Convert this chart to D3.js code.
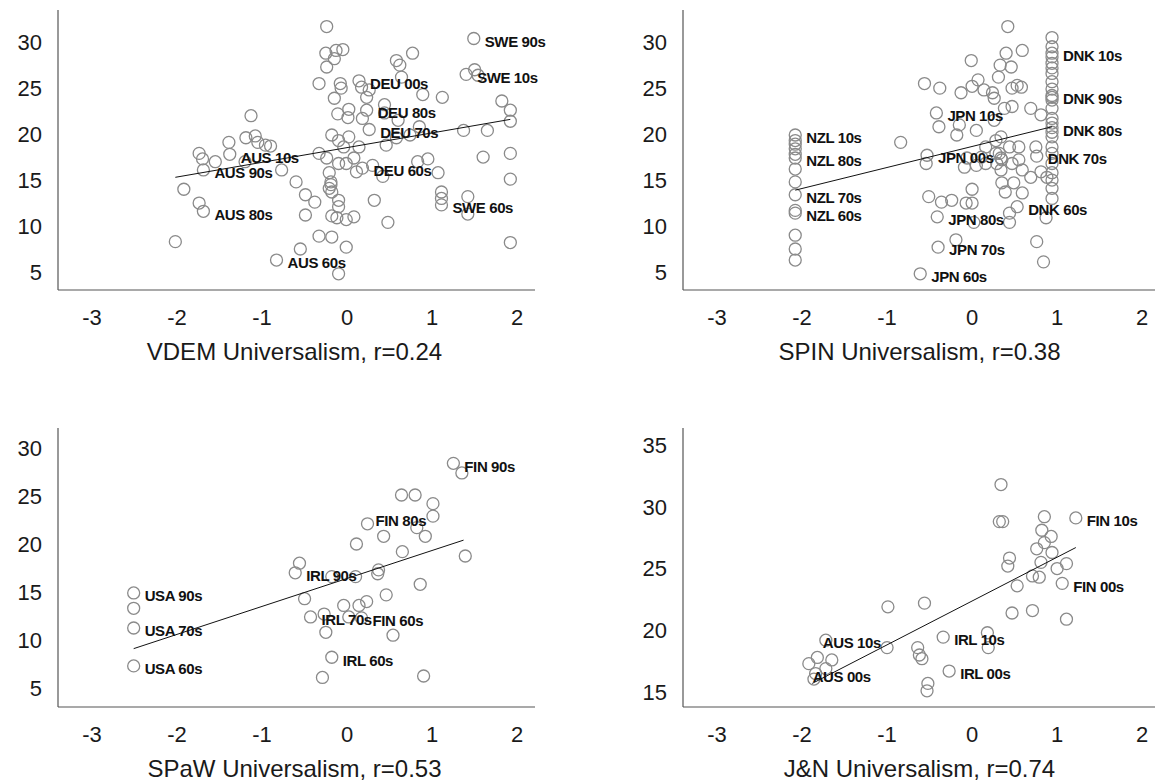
<!DOCTYPE html>
<html>
<head>
<meta charset="utf-8">
<script src="https://cdn.jsdelivr.net/npm/d3@7"></script>
<style>
  body { margin: 0; background: #fff; }
  svg text { font-family: Helvetica, Arial, 'Liberation Sans', sans-serif; }
  .tick-label { font-size: 22px; fill: #1a1a1a; }
  .title { font-size: 24px; fill: #1a1a1a; }
  .pt { fill: none; stroke: #8a8a8a; stroke-width: 1.3; }
  .pt-label { font-size: 15px; font-weight: bold; fill: #111; letter-spacing: -0.4px; }
  .fit { stroke: #111; stroke-width: 1; }
  .axis-line { stroke: #555; stroke-width: 1.2; }
</style>
</head>
<body>
<div id="chart"></div>
<script>
const xTicks = [-3, -2, -1, 0, 1, 2];
const yTicks = [5, 10, 15, 20, 25, 30];
const yTicksJN = [15, 20, 25, 30, 35];

// VDEM universalism vs outcome
const vdemPoints = [
  [-1.13, 22.0], [-1.74, 17.9], [-1.70, 17.3], [-1.69, 16.1], [-1.39, 19.1], [-1.38, 17.8],
  [-1.55, 17.0], [-1.19, 19.6], [-1.08, 19.8], [-1.05, 19.1], [-0.96, 18.8], [-0.90, 18.7],
  [-1.20, 17.0], [-0.77, 16.1], [-1.92, 14.0], [-1.74, 12.5], [-1.69, 11.6], [-2.02, 8.3],
  [-0.83, 6.3], [-0.24, 31.7], [-0.25, 28.8], [-0.13, 29.1], [-0.05, 29.2], [-0.15, 28.2],
  [-0.24, 27.3], [-0.33, 25.5], [-0.08, 25.5], [-0.07, 25.0], [-0.15, 23.9], [0.14, 25.8],
  [0.17, 25.1], [0.26, 24.8], [0.23, 24.0], [0.58, 28.0], [0.62, 27.5], [0.77, 28.8],
  [0.64, 26.2], [0.89, 24.3], [1.12, 24.0], [1.49, 30.4], [1.40, 26.5], [1.50, 27.0],
  [1.54, 26.4], [1.82, 23.6], [1.92, 22.6], [1.92, 21.4], [1.37, 20.4], [1.65, 20.4],
  [1.60, 17.5], [1.92, 17.9], [1.92, 15.1], [1.92, 8.2], [-0.11, 22.2], [0.02, 22.7],
  [0.01, 21.8], [0.18, 21.7], [0.23, 22.6], [0.26, 20.5], [0.44, 23.2], [0.44, 22.3],
  [0.60, 21.5], [0.85, 20.8], [-0.18, 19.9], [-0.10, 19.3], [0.02, 19.7], [-0.04, 18.6],
  [0.14, 18.6], [-0.33, 17.9], [-0.24, 17.4], [-0.10, 16.8], [-0.01, 16.8], [0.08, 17.4],
  [0.11, 15.9], [0.18, 16.3], [0.30, 16.6], [0.46, 18.8], [0.58, 19.6], [0.74, 19.9],
  [0.42, 15.4], [0.83, 17.0], [0.95, 17.3], [1.07, 15.8], [-0.60, 14.8], [-0.21, 15.8],
  [-0.19, 14.8], [-0.19, 14.5], [-0.21, 14.1], [-0.18, 13.7], [-0.10, 12.8], [-0.10, 12.1],
  [-0.49, 13.4], [-0.38, 12.6], [-0.49, 11.2], [-0.18, 11.1], [-0.12, 10.9], [-0.01, 10.7],
  [0.08, 11.0], [0.32, 12.8], [0.48, 10.4], [1.11, 13.7], [1.11, 13.0], [1.11, 12.3],
  [1.42, 13.2], [1.42, 11.3], [-0.33, 8.9], [-0.18, 8.8], [-0.01, 7.7], [-0.55, 7.5],
  [-0.10, 4.8]
];
const vdemLabels = [
  ['AUS 10s', -1.38, 17.8], ['AUS 90s', -1.69, 16.1], ['AUS 80s', -1.69, 11.6],
  ['AUS 60s', -0.83, 6.3], ['DEU 00s', 0.14, 25.8], ['DEU 80s', 0.23, 22.6],
  ['DEU 70s', 0.26, 20.5], ['DEU 60s', 0.18, 16.3], ['SWE 90s', 1.49, 30.4],
  ['SWE 10s', 1.40, 26.5], ['SWE 60s', 1.11, 12.3]
];
const vdemFit = [[-2.02, 15.3], [1.92, 21.6]];

// SPIN universalism
const spinPoints = [
  [-2.08, 19.9], [-2.08, 19.3], [-2.08, 18.9], [-2.08, 18.4], [-2.08, 17.8], [-2.08, 17.4],
  [-2.08, 16.2], [-2.08, 14.8], [-2.08, 13.4], [-2.08, 11.7], [-2.08, 11.4], [-2.08, 9.0],
  [-2.08, 7.5], [-2.08, 6.3],
  [0.94, 30.5], [0.94, 29.5], [0.94, 28.8], [0.94, 28.4], [0.94, 27.7], [0.94, 27.2],
  [0.94, 26.6], [0.94, 25.7], [0.94, 24.9], [0.94, 24.2], [0.94, 24.0], [0.94, 23.7],
  [0.94, 22.8], [0.94, 21.7], [0.94, 21.2], [0.94, 20.7], [0.94, 20.2], [0.94, 19.7],
  [0.94, 18.6], [0.94, 17.9], [0.94, 16.8], [0.94, 15.8], [0.94, 15.0], [0.94, 14.1],
  [0.94, 13.0],
  [0.42, 31.7], [0.59, 29.1], [0.40, 28.8], [-0.01, 28.0], [0.33, 27.5], [0.46, 27.3],
  [0.31, 26.2], [0.07, 25.9], [-0.56, 25.5], [-0.38, 25.0], [-0.13, 24.5], [0.00, 25.2],
  [0.14, 24.8], [0.24, 24.5], [0.26, 23.9], [0.47, 25.0], [0.53, 25.3], [0.58, 25.1],
  [0.38, 22.8], [0.47, 23.0], [0.69, 22.8], [0.81, 22.1], [-0.42, 22.3], [-0.39, 20.8],
  [-0.15, 21.0], [0.05, 20.4], [-0.18, 19.9], [0.26, 21.5], [-0.84, 19.1], [-0.53, 17.7],
  [-0.54, 16.8], [-0.09, 16.4], [0.05, 16.6], [0.16, 18.6], [0.28, 19.3], [0.34, 19.7],
  [0.44, 18.6], [0.55, 18.6], [0.32, 17.9], [0.35, 17.2], [0.47, 16.8], [0.55, 17.2],
  [0.59, 16.1], [0.34, 16.1], [0.75, 18.6], [0.69, 15.3], [0.81, 15.9], [0.88, 15.3],
  [0.35, 14.7], [0.49, 14.7], [0.39, 13.7], [0.59, 13.6], [0.00, 14.0], [-0.51, 13.2],
  [-0.36, 12.6], [-0.24, 12.8], [-0.07, 12.5], [0.00, 12.5], [0.44, 11.4], [-0.41, 11.0],
  [0.02, 10.4], [0.44, 10.4], [0.87, 10.9], [-0.19, 8.5], [-0.40, 7.7], [0.76, 8.3],
  [0.84, 6.1], [-0.61, 4.8], [0.76, 17.6], [0.53, 12.1], [0.28, 17.9], [0.34, 17.4],
  [0.29, 16.8], [0.11, 17.5], [0.16, 16.8], [-0.06, 17.4]
];
const spinLabels = [
  ['NZL 10s', -2.08, 19.9], ['NZL 80s', -2.08, 17.4], ['NZL 70s', -2.08, 13.4],
  ['NZL 60s', -2.08, 11.4], ['JPN 10s', -0.42, 22.3], ['JPN 00s', -0.53, 17.7],
  ['JPN 80s', -0.41, 11.0], ['JPN 70s', -0.40, 7.7], ['JPN 60s', -0.61, 4.8],
  ['DNK 10s', 0.94, 28.8], ['DNK 90s', 0.94, 24.2], ['DNK 80s', 0.94, 20.7],
  ['DNK 70s', 0.76, 17.6], ['DNK 60s', 0.53, 12.1]
];
const spinFit = [[-2.08, 13.9], [0.94, 20.8]];

// SPaW universalism
const spawPoints = [
  [-2.51, 14.9], [-2.51, 13.3], [-2.51, 11.25], [-2.51, 7.3],
  [1.25, 28.4], [1.35, 27.4], [0.64, 25.1], [0.80, 25.1], [1.01, 24.2], [1.01, 22.9],
  [0.82, 21.7], [0.92, 20.8], [0.24, 22.1], [0.43, 20.8], [0.11, 20.0], [0.65, 19.2],
  [1.39, 18.75], [-0.56, 18.0], [-0.61, 17.0], [-0.18, 16.6], [0.10, 16.6], [0.37, 17.3],
  [0.36, 16.9], [0.86, 15.8], [-0.50, 14.3], [0.46, 14.7], [-0.04, 13.6], [0.14, 13.6],
  [0.23, 14.0], [-0.43, 12.4], [-0.27, 12.7], [0.02, 12.4], [0.17, 12.3], [-0.25, 10.8],
  [0.54, 10.5], [-0.18, 8.2], [-0.29, 6.1], [0.90, 6.25]
];
const spawLabels = [
  ['USA 90s', -2.51, 14.9], ['USA 70s', -2.51, 11.25], ['USA 60s', -2.51, 7.3],
  ['FIN 90s', 1.25, 28.4], ['FIN 80s', 0.82, 21.7, 12], ['IRL 90s', -0.61, 17.0],
  ['IRL 70s', -0.43, 12.4], ['FIN 60s', 0.17, 12.3], ['IRL 60s', -0.18, 8.2]
];
const spawFit = [[-2.51, 9.1], [1.37, 20.4]];

// J&N universalism
const jnPoints = [
  [-1.72, 19.2], [-1.82, 17.8], [-1.92, 17.3], [-1.65, 17.6], [-1.84, 16.5], [-1.86, 16.05],
  [-1.72, 16.9], [0.34, 31.8], [0.32, 28.8], [0.36, 28.8], [0.85, 29.2], [1.22, 29.1],
  [0.82, 28.1], [0.93, 27.6], [0.85, 27.1], [0.76, 26.6], [0.94, 26.3], [0.81, 25.5],
  [1.11, 25.4], [1.00, 25.0], [0.44, 25.85], [0.42, 25.2], [0.71, 24.4], [0.79, 24.3],
  [0.53, 23.6], [1.06, 23.8], [0.47, 21.4], [0.71, 21.6], [1.11, 20.9], [-0.99, 21.9],
  [-0.56, 22.2], [-1.00, 18.6], [-0.34, 19.45], [0.18, 19.8], [0.19, 18.6], [-0.64, 18.6],
  [-0.62, 18.0], [-0.59, 17.7], [-0.27, 16.7], [-0.52, 15.7], [-0.53, 15.1]
];
const jnLabels = [
  ['AUS 10s', -1.72, 19.2, 0], ['AUS 00s', -1.84, 16.5, 0], ['FIN 10s', 1.22, 29.1],
  ['FIN 00s', 1.06, 23.8], ['IRL 10s', -0.34, 19.45], ['IRL 00s', -0.27, 16.7]
];
const jnFit = [[-1.88, 15.7], [1.22, 26.7]];

const panels = [
  { points: vdemPoints, labels: vdemLabels, fit: vdemFit, title: 'VDEM Universalism, r=0.24',
    yTicks: yTicks, yDomain: [3.04, 33.5], left: 58, bottom: 290, top: 10 },
  { points: spinPoints, labels: spinLabels, fit: spinFit, title: 'SPIN Universalism, r=0.38',
    yTicks: yTicks, yDomain: [3.04, 33.5], left: 683, bottom: 290, top: 10 },
  { points: spawPoints, labels: spawLabels, fit: spawFit, title: 'SPaW Universalism, r=0.53',
    yTicks: yTicks, yDomain: [3.02, 32.08], left: 58, bottom: 707, top: 428 },
  { points: jnPoints, labels: jnLabels, fit: jnFit, title: 'J&N Universalism, r=0.74',
    yTicks: yTicksJN, yDomain: [13.79, 36.38], left: 683, bottom: 707, top: 428 }
];

const width = 1155;
const height = 781;
const xDomain = [-3.4, 2.21];
const plotWidth = 477;

const svg = d3.select('#chart')
  .append('svg')
    .attr('width', width)
    .attr('height', height);

// label offset from marker by clock position (3 = right, 12 = above, 0 = on marker)
const labelDx = pos => pos === 12 ? -16 : pos === 0 ? -3 : 11;
const labelDy = pos => pos === 12 ? -7 : 3;
const labelAnchor = pos => pos === 12 ? 'middle' : 'start';

panels.forEach(p => {
  const x = d3.scaleLinear().domain(xDomain).range([p.left, p.left + plotWidth]);
  const y = d3.scaleLinear().domain(p.yDomain).range([p.bottom, p.top]);
  const g = svg.append('g');

  // axis lines, no tick marks
  g.append('line')
    .attr('class', 'axis-line')
    .attr('x1', p.left).attr('x2', p.left)
    .attr('y1', p.top).attr('y2', p.bottom);
  g.append('line')
    .attr('class', 'axis-line')
    .attr('x1', p.left).attr('x2', p.left + plotWidth)
    .attr('y1', p.bottom).attr('y2', p.bottom);

  g.selectAll('.ytick')
    .data(p.yTicks)
    .enter().append('text')
      .attr('class', 'tick-label')
      .attr('x', p.left - 16)
      .attr('y', d => y(d))
      .attr('dy', '0.36em')
      .attr('text-anchor', 'end')
      .text(d => d);

  g.selectAll('.xtick')
    .data(xTicks)
    .enter().append('text')
      .attr('class', 'tick-label')
      .attr('x', d => x(d))
      .attr('y', p.bottom + 35)
      .attr('text-anchor', 'middle')
      .text(d => d);

  g.append('text')
    .attr('class', 'title')
    .attr('x', p.left + plotWidth / 2 - 2)
    .attr('y', p.bottom + 70)
    .attr('text-anchor', 'middle')
    .text(p.title);

  g.append('g')
    .selectAll('circle')
    .data(p.points)
    .enter().append('circle')
      .attr('class', 'pt')
      .attr('r', 6)
      .attr('cx', d => x(d[0]))
      .attr('cy', d => y(d[1]));

  g.append('line')
    .attr('class', 'fit')
    .attr('x1', x(p.fit[0][0])).attr('y1', y(p.fit[0][1]))
    .attr('x2', x(p.fit[1][0])).attr('y2', y(p.fit[1][1]));

  g.append('g')
    .selectAll('text')
    .data(p.labels)
    .enter().append('text')
      .attr('class', 'pt-label')
      .attr('x', d => x(d[1]) + labelDx(d[3]))
      .attr('y', d => y(d[2]) + labelDy(d[3]))
      .attr('dy', '0.35em')
      .attr('text-anchor', d => labelAnchor(d[3]))
      .text(d => d[0]);
});
</script>
</body>
</html>
